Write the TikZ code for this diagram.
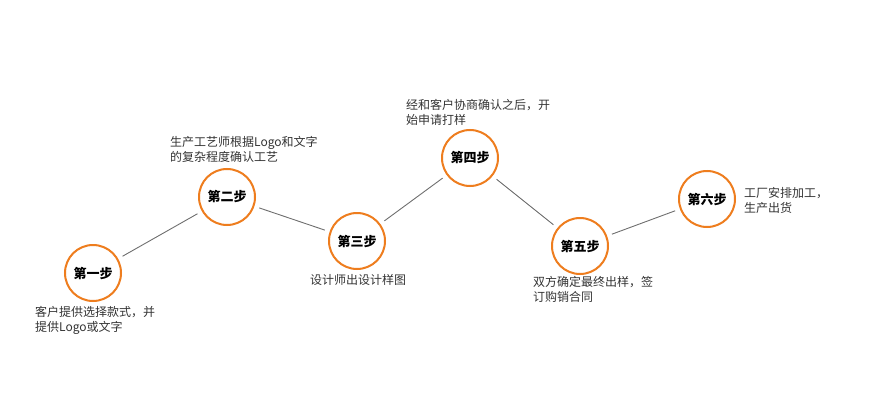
\documentclass[tikz,border=0pt]{standalone}
\usepackage{fontspec}
\setmainfont{Noto Sans CJK SC}
\definecolor{ringc}{HTML}{EE7D1E}
\definecolor{linec}{HTML}{6E6E6E}
\definecolor{textc}{HTML}{333333}
\begin{document}
\begin{tikzpicture}[x=1pt,y=-1pt,
  stepnode/.style={circle,draw=ringc,line width=2pt,fill=white,minimum size=56pt,inner sep=0pt,
    font=\fontsize{13}{15}\selectfont\bfseries,text=black},
  desc/.style={anchor=north west,inner sep=0pt,align=left,text=textc,
    font=\fontsize{12}{15}\selectfont},
  link/.style={draw=linec,line width=0.9pt,shorten >=5pt,shorten <=5pt}]
\useasboundingbox (0,0) rectangle (870,420);
\node[stepnode] (s1) at (93,273) {第一步};
\node[stepnode] (s2) at (227,197) {第二步};
\node[stepnode] (s3) at (357,241) {第三步};
\node[stepnode] (s4) at (470,158) {第四步};
\node[stepnode] (s5) at (580,246) {第五步};
\node[stepnode] (s6) at (707,199) {第六步};
\draw[link] (s1) -- (s2);
\draw[link] (s2) -- (s3);
\draw[link] (s3) -- (s4);
\draw[link] (s4) -- (s5);
\draw[link] (s5) -- (s6);
\node[desc] (t1) at (35,306) {客户提供选择款式，并\\提供Logo或文字};
\node[desc] (t2) at (170,136) {生产工艺师根据Logo和文字\\的复杂程度确认工艺};
\node[desc] (t3) at (310,274) {设计师出设计样图};
\node[desc] (t4) at (406,99) {经和客户协商确认之后，开\\始申请打样};
\node[desc] (t5) at (533,276) {双方确定最终出样，签\\订购销合同};
\node[desc] (t6) at (744,187) {工厂安排加工，\\生产出货};
\end{tikzpicture}
\end{document}
